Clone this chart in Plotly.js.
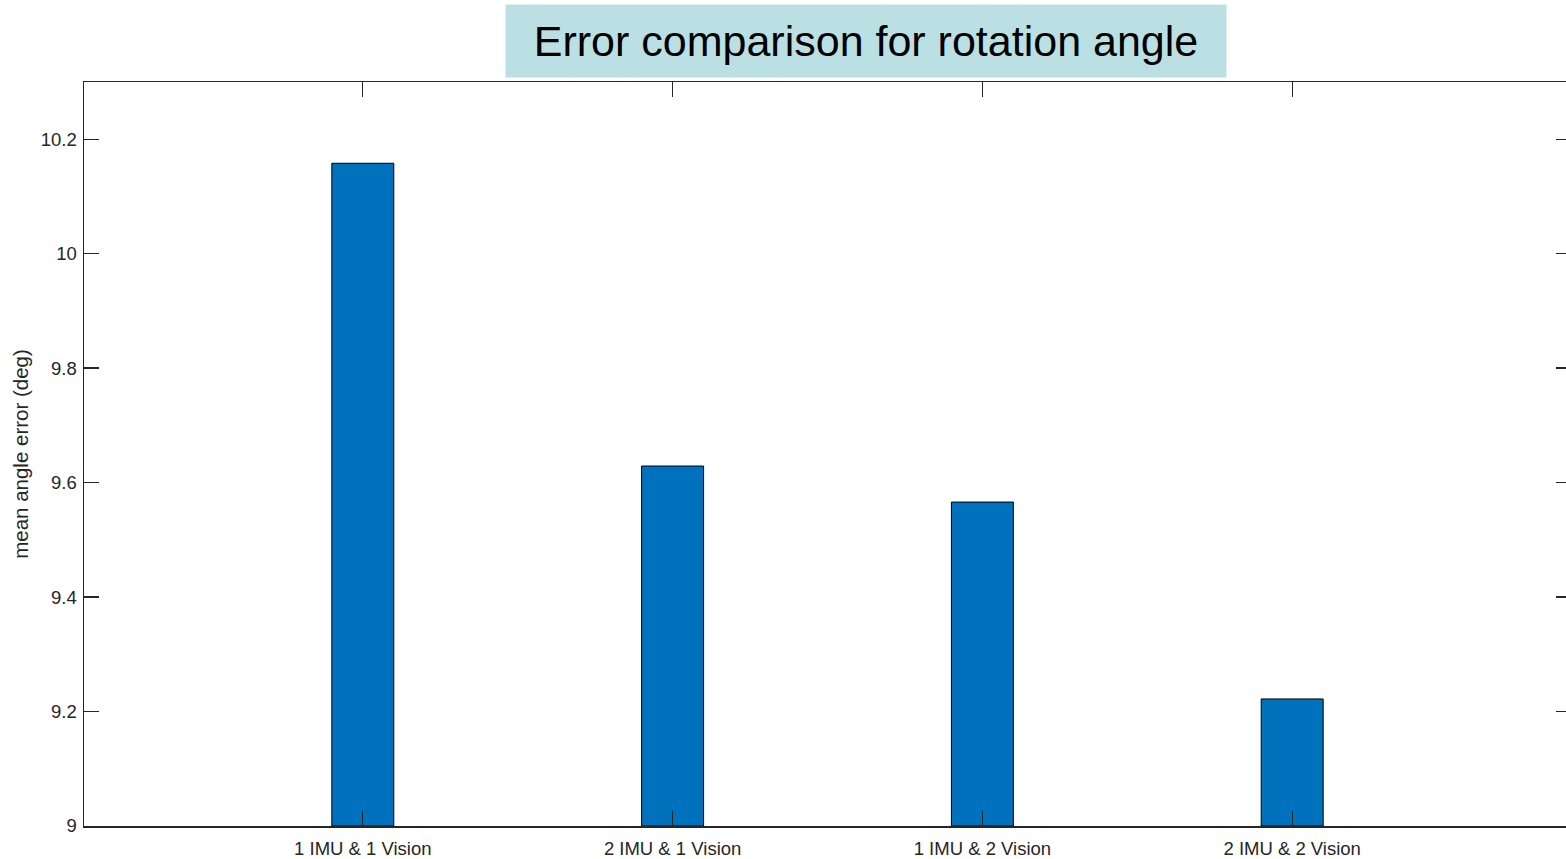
<!DOCTYPE html>
<html>
<head>
<meta charset="utf-8">
<script src="https://cdn.plot.ly/plotly-3.0.1.min.js"></script>
<style>
html,body{margin:0;padding:0;overflow:hidden;background:#fff;}
#chart{width:1572px;height:859px;}
</style>
</head>
<body>
<div id="chart"></div>
<script>
const categories = ["1 IMU & 1 Vision", "2 IMU & 1 Vision", "1 IMU & 2 Vision", "2 IMU & 2 Vision"];
const positions = [1, 2, 3, 4];
const meanAngleError = [10.158, 9.629, 9.566, 9.222];
const yTicks = [9, 9.2, 9.4, 9.6, 9.8, 10, 10.2];
const yTickLabels = ["9", "9.2", "9.4", "9.6", "9.8", "10", "10.2"];
const chartTitle = "Error comparison for rotation angle";
const yTitle = "mean angle error (deg)";
const baseValue = 9;

const axisColor = "#262626";
const fontFam = "Arial, 'Liberation Sans', Helvetica, sans-serif";

const trace = {
  type: "bar",
  x: positions,
  y: meanAngleError.map(v => v - baseValue),
  base: baseValue,
  width: 0.2,
  marker: {color: "#0072BD", line: {color: "#000000", width: 1}},
  hoverinfo: "x+y"
};

const layout = {
  width: 1572,
  height: 859,
  margin: {l: 84, r: 1, t: 82, b: 33},
  paper_bgcolor: "#ffffff",
  plot_bgcolor: "#ffffff",
  showlegend: false,
  font: {family: fontFam, color: axisColor, size: 18},
  xaxis: {
    range: [0.1, 4.9],
    tickmode: "array",
    tickvals: positions,
    ticktext: categories,
    ticks: "inside",
    ticklen: 15,
    tickwidth: 1.3,
    tickcolor: axisColor,
    showline: true,
    linecolor: axisColor,
    linewidth: 1.5,
    mirror: "ticks",
    showgrid: false,
    zeroline: false,
    ticklabelstandoff: 5,
    tickfont: {size: 18.5, color: axisColor, family: fontFam},
    fixedrange: true
  },
  yaxis: {
    range: [9, 10.3],
    tickmode: "array",
    tickvals: yTicks,
    ticktext: yTickLabels,
    ticks: "inside",
    ticklen: 15,
    tickwidth: 1.3,
    tickcolor: axisColor,
    showline: true,
    linecolor: axisColor,
    linewidth: 1.5,
    mirror: "ticks",
    showgrid: false,
    zeroline: false,
    ticklabelstandoff: 2,
    tickfont: {size: 18.5, color: axisColor, family: fontFam},
    title: {text: yTitle, font: {size: 20.5, color: axisColor, family: fontFam}, standoff: 6},
    fixedrange: true
  },
  annotations: [{
    text: chartTitle,
    xref: "paper", yref: "paper",
    x: (866 - 84) / 1487, y: (826 - 41) / 744,
    xanchor: "center", yanchor: "middle",
    showarrow: false,
    bgcolor: "#BAE0E3",
    width: 720, height: 72,
    borderpad: 0,
    font: {size: 43, color: "#000000", family: fontFam}
  }]
};

Plotly.newPlot("chart", [trace], layout, {displayModeBar: false, staticPlot: true});
</script>
</body>
</html>
